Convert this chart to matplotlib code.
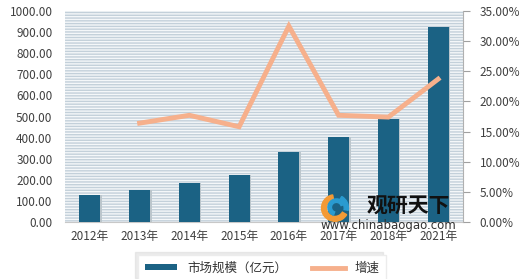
import matplotlib.pyplot as plt
import matplotlib.patches as mpatches
import numpy as np

plt.rcParams['font.family'] = ['Noto Sans CJK SC', 'DejaVu Sans']
plt.rcParams['hatch.linewidth'] = 1.0

# data
years = ['2012年', '2013年', '2014年', '2015年', '2016年', '2017年', '2018年', '2021年']
market_size = [128, 152, 186, 223, 330, 404, 488, 922]
growth_years = ['2013年', '2014年', '2015年', '2016年', '2017年', '2018年', '2021年']
growth = [16.4, 17.7, 15.8, 32.5, 17.7, 17.4, 23.7]

bar_color = '#1b6284'
line_color = '#f6b08c'
tick_color = '#404040'

fig = plt.figure(figsize=(5.2, 2.79), dpi=100)
ax = fig.add_axes([65 / 520, 1 - 222 / 279, 398 / 520, 211 / 279])

# striped background
bg = mpatches.Rectangle((0, 0), 1, 1, transform=ax.transAxes, facecolor='#f4f7f9',
                        edgecolor='#c3d0da', hatch='-' * 6, linewidth=0, zorder=0)
ax.add_patch(bg)

x = np.arange(len(years))
# soft shadow under bars
ax.bar(x + 0.03, market_size, width=0.42, color='#bcc6cc', zorder=2)
bars = ax.bar(x, market_size, width=0.42, color=bar_color, zorder=3, label='市场规模（亿元）')
ax.set_xlim(-0.5, len(years) - 0.5)
ax.set_ylim(0, 1000)
ax.set_yticks(np.arange(0, 1001, 100))
ax.set_yticklabels([f'{v:.2f}' for v in np.arange(0, 1001, 100)])
ax.set_xticks(x)
ax.set_xticklabels(years)
ax.tick_params(axis='x', length=0, labelsize=8.5, colors=tick_color, pad=6)
ax.tick_params(axis='y', length=0, labelsize=8.5, colors=tick_color, pad=9)
for side in ['top', 'left', 'right']:
    ax.spines[side].set_visible(False)
ax.spines['bottom'].set_color('#c8c8c8')

ax2 = ax.twinx()
gx = [years.index(y) for y in growth_years]
line, = ax2.plot(gx, growth, color=line_color, linewidth=3.5, zorder=4,
                 solid_joinstyle='miter', label='增速')
ax2.set_ylim(0, 35)
ax2.set_yticks(np.arange(0, 36, 5))
ax2.set_yticklabels([f'{v:.2f}%' for v in np.arange(0, 36, 5)])
ax2.tick_params(axis='y', length=5, color='#a0a0a0', labelsize=8.5, labelcolor=tick_color, pad=7)
for side in ['top', 'left', 'bottom']:
    ax2.spines[side].set_visible(False)
ax2.spines['right'].set_color('#b0b0b0')

# watermark logo
lax = fig.add_axes([318 / 520, 1 - 222 / 279, 34 / 520, 28 / 279])
lax.set_xlim(-1.2, 1.2)
lax.set_ylim(-1, 1)
lax.axis('off')
lax.add_patch(mpatches.Wedge((0, 0), 0.95, 100, 330, width=0.35, color='#f39a35'))
lax.add_patch(mpatches.Wedge((0.1, 0.05), 0.6, 20, 250, width=0.25, color='#2a9bd0'))
lax.add_patch(mpatches.Wedge((0, 0), 0.95, 350, 60, width=0.3, color='#2a9bd0'))
fig.text(408 / 520, 1 - 206 / 279, '观研天下', fontsize=15, fontweight='bold', color='#111111',
         ha='center', va='center')
fig.text(388 / 520, 1 - 225 / 279, 'www.chinabaogao.com', fontsize=8.5, color='#333333',
         ha='center', va='center', family=['DejaVu Sans'])

leg = fig.legend(handles=[bars, line], loc='center', bbox_to_anchor=(262 / 520, 1 - 268 / 279),
                 ncol=2, fontsize=9, frameon=True, fancybox=False,
                 shadow={'color': '#d8d8d8', 'ox': -2, 'oy': 2},
                 handlelength=2.6, handleheight=0.4, columnspacing=2.0, borderpad=0.5)
leg.get_frame().set_edgecolor('#ececec')
for t in leg.get_texts():
    t.set_color('#333333')

fig.savefig('out.png', dpi=100)
